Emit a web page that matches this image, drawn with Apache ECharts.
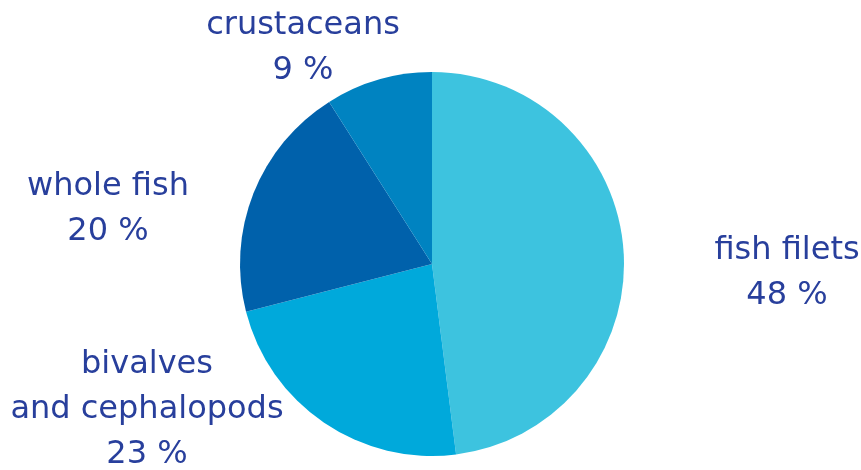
<!DOCTYPE html>
<html>
<head>
<meta charset="utf-8">
<script src="https://cdn.jsdelivr.net/npm/echarts@6/dist/echarts.min.js"></script>
<style>
html,body{margin:0;padding:0;background:#fff;}
#chart{width:861px;height:470px;}
</style>
</head>
<body>
<div id="chart"></div>
<script>
var categories = ['fish filets', 'bivalves\nand cephalopods', 'whole fish', 'crustaceans'];
var shares = [48, 23, 20, 9];
var colors = ['#3dc3df', '#00a9db', '#0061ab', '#0083c1'];
var labelPos = [[787, 273], [147, 410], [108, 209], [303, 48]];

var chart = echarts.init(document.getElementById('chart'));
chart.setOption({
  animation: false,
  series: [{
    type: 'pie',
    center: [432, 264],
    radius: 192,
    startAngle: 90,
    clockwise: true,
    data: categories.map(function (c, i) {
      return { name: c, value: shares[i], itemStyle: { color: colors[i] } };
    }),
    itemStyle: { borderWidth: 0 },
    label: {
      show: true,
      position: 'outside',
      formatter: '{b}\n{c} %',
      color: '#283f9c',
      fontFamily: 'DejaVu Sans',
      fontSize: 32,
      lineHeight: 45,
      align: 'center',
      overflow: 'none'
    },
    labelLine: { show: false },
    labelLayout: function (p) {
      var pos = labelPos[p.dataIndex];
      return { x: pos[0], y: pos[1], align: 'center', verticalAlign: 'middle', width: 320 };
    }
  }]
});
</script>
</body>
</html>
